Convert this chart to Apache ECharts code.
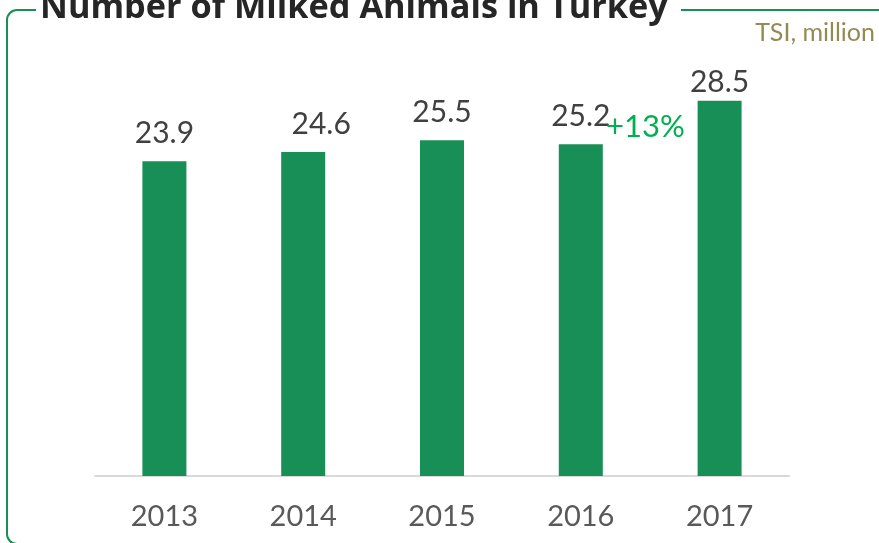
<!DOCTYPE html>
<html>
<head>
<meta charset="utf-8">
<script src="https://cdn.jsdelivr.net/npm/echarts@6/dist/echarts.min.js"></script>
<style>
  html, body { margin: 0; padding: 0; background: #fff; }
  #chart { width: 879px; height: 543px; }
</style>
</head>
<body>
<div id="chart"></div>
<script>
// Milked animals in Turkey, millions (TSI)
const years = ['2013', '2014', '2015', '2016', '2017'];
const milkedAnimals = [23.9, 24.6, 25.5, 25.2, 28.5];
const titleText = 'Number of Milked Animals in Turkey';
const sourceText = 'TSI, million';
const growthText = '+13%';

const GREEN = '#188F56';
const FONT = 'Lato, "Open Sans", sans-serif';
const TITLE_FONT = '"Open Sans", Lato, sans-serif';

// a few labels sit slightly off their default spot
const labelTweaks = {
  1: { offset: [18, 0] },
  4: { distance: 3 }
};

// size the title so it spans the gap left in the frame's top edge
function fitFontSize(text, family, weight, targetWidth) {
  const ctx = document.createElement('canvas').getContext('2d');
  ctx.font = weight + ' 100px ' + family;
  const w = ctx.measureText(text).width;
  return Math.round(100 * targetWidth / w * 10) / 10;
}
const titleSize = fitFontSize(titleText, TITLE_FONT, 'bold', 628);

// text placed by its baseline: 'middle' sits ~0.388em above it
const midFromBaseline = (baseline, size) => baseline - 0.388 * size;

const chart = echarts.init(document.getElementById('chart'));

const barData = milkedAnimals.map((v, i) => {
  const t = labelTweaks[i];
  if (!t) return v;
  return { value: v, label: Object.assign({}, t) };
});

chart.setOption({
  animation: false,
  grid: { left: 95, right: 90, top: 81, bottom: 67 },
  xAxis: {
    type: 'category',
    data: years,
    axisLine: { lineStyle: { color: '#D9D9D9', width: 2 } },
    axisTick: { show: false },
    axisLabel: { color: '#595959', fontFamily: FONT, fontSize: 29, margin: 26 }
  },
  yAxis: {
    type: 'value',
    min: 0,
    max: 30,
    show: false,
    splitLine: { show: false }
  },
  series: [{
    type: 'bar',
    data: barData,
    barWidth: 44,
    itemStyle: { color: GREEN },
    label: {
      show: true,
      position: 'top',
      distance: 13,
      color: '#404040',
      fontFamily: FONT,
      fontSize: 30,
      formatter: p => p.value.toFixed(1)
    }
  }],
  graphic: [
    {
      type: 'rect',
      shape: { x: 7, y: 10, width: 1000, height: 534, r: 10 },
      style: { fill: 'none', stroke: GREEN, lineWidth: 2 },
      z: 1
    },
    {
      type: 'rect',
      shape: { x: 36, y: 0, width: 645, height: 24 },
      style: { fill: '#fff' },
      z: 2
    },
    {
      type: 'text',
      x: 40,
      y: midFromBaseline(22, titleSize),
      style: {
        text: titleText,
        fill: '#262626',
        font: 'bold ' + titleSize + 'px ' + TITLE_FONT,
        verticalAlign: 'middle'
      },
      z: 3
    },
    {
      type: 'text',
      x: 875,
      y: midFromBaseline(43, 25),
      style: {
        text: sourceText,
        fill: '#948A54',
        font: '25px ' + FONT,
        align: 'right',
        verticalAlign: 'middle'
      },
      z: 3
    },
    {
      type: 'text',
      x: 606,
      y: midFromBaseline(139, 31),
      style: {
        text: growthText,
        fill: '#00B050',
        font: '31px ' + FONT,
        verticalAlign: 'middle'
      },
      z: 3
    }
  ]
});
</script>
</body>
</html>
